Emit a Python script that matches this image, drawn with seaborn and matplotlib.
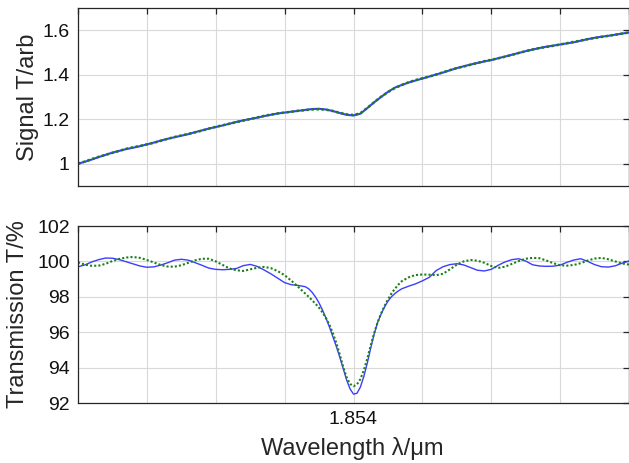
import matplotlib
matplotlib.use("Agg")
import matplotlib.pyplot as plt
import numpy as np
import seaborn as sns

# sample wavelengths (um) for the signal panel: 81 points from 1.852 to 1.856
wl_signal = np.linspace(1.852, 1.856, 81)
# transmission panel: same step, but twice as dense around the dip
wl_trans = np.concatenate([
    np.linspace(1.852, 1.8536, 33),
    np.linspace(1.85365, 1.85435, 29),
    np.linspace(1.8544, 1.856, 33),
])

signal_blue = [
    1.000, 1.009, 1.019, 1.030, 1.040, 1.050, 1.058, 1.066, 1.072, 1.079,
    1.087, 1.095, 1.104, 1.112, 1.119, 1.126, 1.133, 1.142, 1.150, 1.158,
    1.165, 1.172, 1.180, 1.188, 1.195, 1.201, 1.207, 1.214, 1.220, 1.226,
    1.230, 1.234, 1.238, 1.242, 1.246, 1.247, 1.244, 1.237, 1.228, 1.220,
    1.217, 1.225, 1.250, 1.276, 1.300, 1.323, 1.342, 1.354, 1.365, 1.374,
    1.383, 1.392, 1.401, 1.410, 1.420, 1.430, 1.438, 1.446, 1.453, 1.460,
    1.466, 1.474, 1.482, 1.490, 1.498, 1.506, 1.513, 1.520, 1.526, 1.531,
    1.536, 1.541, 1.546, 1.553, 1.560, 1.566, 1.571, 1.575, 1.580, 1.585,
    1.590,
]
signal_green = [
    1.000, 1.010, 1.021, 1.031, 1.040, 1.049, 1.058, 1.067, 1.074, 1.080,
    1.087, 1.094, 1.103, 1.112, 1.120, 1.127, 1.134, 1.141, 1.149, 1.158,
    1.166, 1.173, 1.180, 1.187, 1.194, 1.201, 1.208, 1.215, 1.221, 1.226,
    1.230, 1.234, 1.238, 1.241, 1.244, 1.245, 1.243, 1.237, 1.229, 1.222,
    1.219, 1.227, 1.251, 1.277, 1.301, 1.322, 1.340, 1.354, 1.366, 1.376,
    1.384, 1.392, 1.401, 1.411, 1.421, 1.430, 1.437, 1.445, 1.453, 1.461,
    1.467, 1.474, 1.481, 1.489, 1.498, 1.506, 1.514, 1.520, 1.525, 1.530,
    1.536, 1.542, 1.548, 1.554, 1.560, 1.565, 1.570, 1.575, 1.580, 1.585,
    1.590,
]

trans_blue = [
    # 1.8520 .. 1.8536
    99.70, 99.80, 99.97, 100.10, 100.19, 100.18, 100.10, 99.98, 99.86, 99.74,
    99.67, 99.69, 99.79, 99.92, 100.07, 100.12, 100.07, 99.93, 99.78, 99.62,
    99.55, 99.53, 99.55, 99.60, 99.76, 99.83, 99.72, 99.52, 99.30, 99.05,
    98.80, 98.68, 98.64,
    # 1.85365 .. 1.85435
    98.57, 98.45, 98.25, 97.98, 97.65, 97.25, 96.80, 96.30, 95.75, 95.20,
    94.60, 93.95, 93.30, 92.80, 92.50, 92.55, 92.90, 93.50, 94.25, 95.10,
    95.90, 96.55, 97.02, 97.42, 97.75, 98.00, 98.18, 98.33, 98.45,
    # 1.8544 .. 1.8560
    98.60, 98.73, 98.90, 99.10, 99.48, 99.70, 99.82, 99.87, 99.80, 99.65,
    99.50, 99.46, 99.55, 99.78, 99.97, 100.10, 100.15, 100.02, 99.81, 99.74,
    99.72, 99.73, 99.79, 99.95, 100.08, 100.15, 100.00, 99.82, 99.70, 99.68,
    99.75, 99.90, 100.02,
]
trans_green = [
    # 1.8520 .. 1.8536
    99.95, 99.82, 99.75, 99.76, 99.86, 100.02, 100.14, 100.22, 100.25, 100.20,
    100.08, 99.94, 99.80, 99.71, 99.70, 99.78, 99.92, 100.06, 100.15, 100.15,
    100.00, 99.80, 99.60, 99.50, 99.46, 99.55, 99.64, 99.69, 99.62, 99.45,
    99.22, 98.90, 98.55,
    # 1.85365 .. 1.85435
    98.18, 98.00, 97.80, 97.60, 97.38, 97.12, 96.80, 96.42, 95.95, 95.40,
    94.75, 94.05, 93.45, 93.08, 92.95, 93.05, 93.35, 93.85, 94.50, 95.25,
    95.95, 96.55, 97.05, 97.48, 97.85, 98.18, 98.45, 98.68, 98.88,
    # 1.8544 .. 1.8560
    99.10, 99.23, 99.26, 99.25, 99.22, 99.30, 99.55, 99.82, 100.00, 100.08,
    100.04, 99.92, 99.74, 99.63, 99.70, 99.86, 100.02, 100.15, 100.20, 100.18,
    100.05, 99.90, 99.78, 99.76, 99.80, 99.90, 100.05, 100.16, 100.20, 100.12,
    100.00, 99.88, 99.82,
]

x_ticks = np.arange(1.852, 1.85601, 0.0005)
x_ticklabels = ["", "", "", "", "1.854", "", "", "", ""]
signal_ticks = [1.0, 1.2, 1.4, 1.6]
signal_ticklabels = ["1", "1.2", "1.4", "1.6"]
trans_ticks = [92, 94, 96, 98, 100, 102]
trans_ticklabels = ["92", "94", "96", "98", "100", "102"]

sns.set_theme(style="white")
plt.rcParams["font.family"] = ["Liberation Sans", "DejaVu Sans"]

BLUE = "#3d3dff"
GREEN = "#1a801a"
AXC = "#262626"

fig = plt.figure(figsize=(6.29, 4.63), dpi=100)
ax_top = fig.add_axes([78 / 629, 1 - 186 / 463, 551 / 629, 178 / 463])
ax_bot = fig.add_axes([78 / 629, 1 - 403 / 463, 551 / 629, 177 / 463])


def style_axis(ax):
    ax.grid(True, color="#d9d9d9", linewidth=0.8)
    ax.set_axisbelow(True)
    for sp in ax.spines.values():
        sp.set_color(AXC)
        sp.set_linewidth(0.9)
        sp.set_visible(True)
    ax.tick_params(direction="in", length=4, width=0.9, color=AXC,
                   top=True, right=True, labelsize=14, labelcolor="#111111",
                   pad=6)
    ax.set_xlim(1.852, 1.856)
    ax.set_xticks(x_ticks)


sns.lineplot(x=wl_signal, y=signal_blue, ax=ax_top, color=BLUE,
             linewidth=1.5, estimator=None)
sns.lineplot(x=wl_signal, y=signal_green, ax=ax_top, color=GREEN,
             linewidth=1.8, linestyle=(0, (1, 1)), estimator=None)
style_axis(ax_top)
ax_top.set_ylim(0.9, 1.7)
ax_top.set_yticks(signal_ticks)
ax_top.set_yticklabels(signal_ticklabels)
ax_top.set_xticklabels([])
ax_top.set_ylabel("Signal T/arb", fontsize=17, va="center")
ax_top.yaxis.set_label_coords(-50 / 551, 0.5)

sns.lineplot(x=wl_trans, y=trans_blue, ax=ax_bot, color=BLUE,
             linewidth=1.0, estimator=None)
sns.lineplot(x=wl_trans, y=trans_green, ax=ax_bot, color=GREEN,
             linewidth=1.5, linestyle=(0, (1, 1)), estimator=None)
style_axis(ax_bot)
ax_bot.set_ylim(92, 102)
ax_bot.set_yticks(trans_ticks)
ax_bot.set_yticklabels(trans_ticklabels)
ax_bot.set_xticklabels(x_ticklabels)
ax_bot.set_ylabel("Transmission T/%", fontsize=17, va="center")
ax_bot.yaxis.set_label_coords(-60 / 551, 0.5)
ax_bot.set_xlabel("Wavelength λ/μm", fontsize=17, va="center")
ax_bot.xaxis.set_label_coords((352 - 78) / 551, -(448 - 403) / 177)

fig.savefig("out.png", dpi=100)
